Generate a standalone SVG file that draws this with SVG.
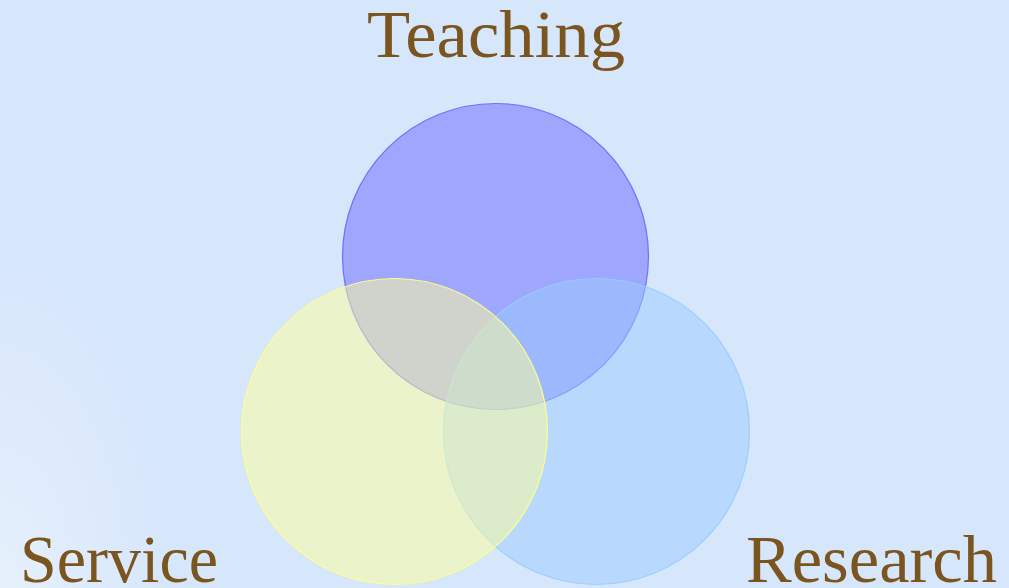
<svg xmlns="http://www.w3.org/2000/svg" width="1009" height="588" viewBox="0 0 1009 588">
  <defs>
    <radialGradient id="bg" gradientUnits="userSpaceOnUse" cx="0" cy="588" r="420" gradientTransform="translate(0 588) scale(0.7 1.35) translate(0 -588)">
      <stop offset="0" stop-color="#e6f0fc"/>
      <stop offset="0.6" stop-color="#d6e6fb"/>
      <stop offset="1" stop-color="#d6e6fb"/>
    </radialGradient>
    <style>
      .label { font-family: "Liberation Serif", "DejaVu Serif", serif; font-size: 68px; fill: #7b5520; }
      .c { stroke-width: 1.2; }
    </style>
  </defs>
  <rect x="0" y="0" width="1009" height="588" fill="#d6e6fb"/>
  <rect x="0" y="0" width="1009" height="588" fill="url(#bg)"/>
  <g id="teaching">
    <circle class="c" cx="495.5" cy="256.5" r="153" fill="#6666ff" fill-opacity="0.5" stroke="#6666ff" stroke-opacity="0.9"/>
    <text class="label" x="367" y="57" textLength="258" lengthAdjust="spacingAndGlyphs">Teaching</text>
  </g>
  <g id="research">
    <circle class="c" cx="596.5" cy="431.5" r="153" fill="#99ccff" fill-opacity="0.5" stroke="#99ccff" stroke-opacity="0.9"/>
    <text class="label" x="746" y="582" textLength="251" lengthAdjust="spacingAndGlyphs">Research</text>
  </g>
  <g id="service">
    <circle class="c" cx="394.5" cy="431.5" r="153" fill="#ffff99" fill-opacity="0.5" stroke="#ffff88" stroke-opacity="0.95"/>
    <text class="label" x="20" y="582" textLength="198" lengthAdjust="spacingAndGlyphs">Service</text>
  </g>
  <g id="connectors"/>
</svg>
